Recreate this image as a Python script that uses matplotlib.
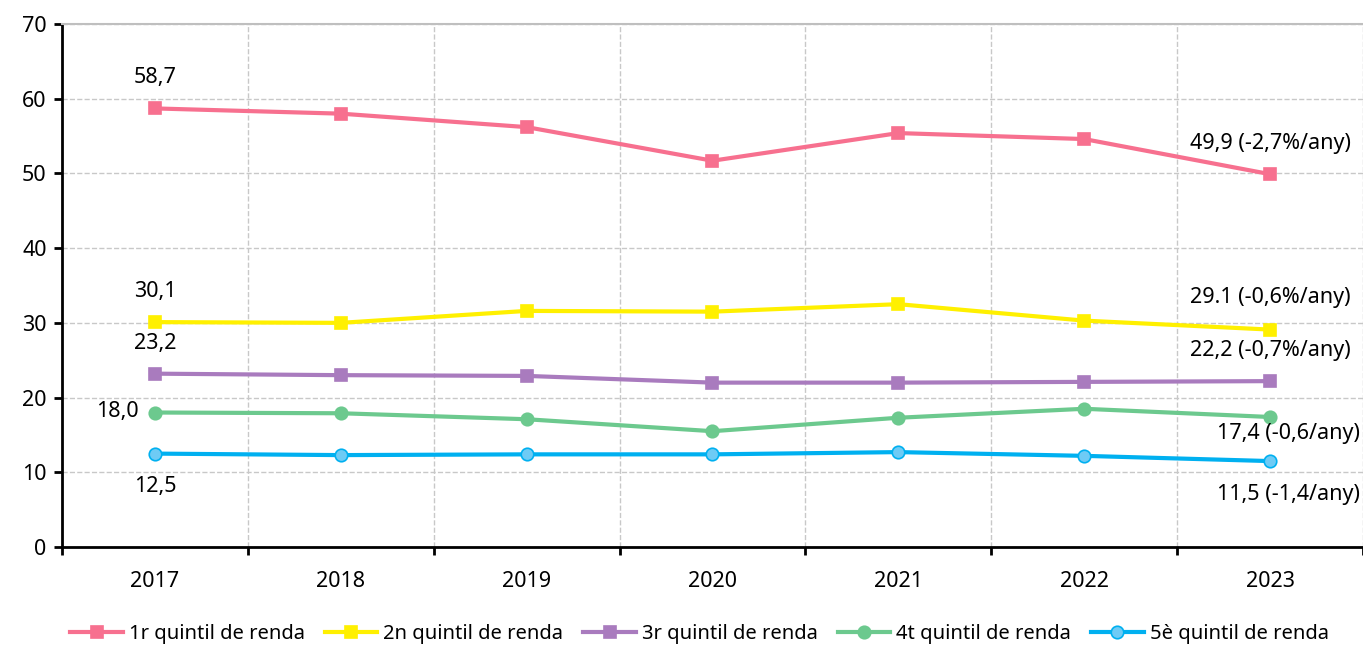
import matplotlib.pyplot as plt

plt.rcParams['font.family'] = ['Noto Sans', 'DejaVu Sans']

years = ['2017', '2018', '2019', '2020', '2021', '2022', '2023']
labels = ['1r quintil de renda', '2n quintil de renda', '3r quintil de renda',
          '4t quintil de renda', '5è quintil de renda']
q1 = [58.7, 58.0, 56.2, 51.7, 55.4, 54.6, 49.9]
q2 = [30.1, 30.0, 31.6, 31.5, 32.5, 30.3, 29.1]
q3 = [23.2, 23.0, 22.9, 22.0, 22.0, 22.1, 22.2]
q4 = [18.0, 17.9, 17.1, 15.5, 17.3, 18.5, 17.4]
q5 = [12.5, 12.3, 12.4, 12.4, 12.7, 12.2, 11.5]
start_labels = ['58,7', '30,1', '23,2', '18,0', '12,5']
end_labels = ['49,9 (-2,7%/any)', '29.1 (-0,6%/any)', '22,2 (-0,7%/any)',
              '17,4 (-0,6/any)', '11,5 (-1,4/any)']

series = [q1, q2, q3, q4, q5]
colors = ['#F7708F', '#FFF000', '#A97BBE', '#6CC98E', '#00B0F0']
faces = ['#F7708F', '#FFF000', '#A97BBE', '#6CC98E', '#6ECBF5']
markers = ['s', 's', 's', 'o', 'o']

FS = 15.5

fig = plt.figure(figsize=(13.63, 6.46), dpi=100)
ax = fig.add_axes([62 / 1363, 1 - 547 / 646, 1301 / 1363, 523 / 646])

x = list(range(len(years)))
for vals, lab, c, fc, m in zip(series, labels, colors, faces, markers):
    ax.plot(x, vals, color=c, lw=3, marker=m, markersize=9,
            markerfacecolor=fc, markeredgecolor=c, markeredgewidth=1.2, label=lab)

# start labels (offsets in points)
start_off = [(0, 22, 'center'), (0, 22, 'center'), (0, 22, 'center'),
             (-12, 1, 'right'), (0, -24, 'center')]
for vals, txt, (dx, dy, ha) in zip(series, start_labels, start_off):
    ax.annotate(txt, (0, vals[0]), xytext=(dx, dy), textcoords='offset points',
                ha=ha, va='center', fontsize=FS)

# end labels
last = len(years) - 1
end_off = [(0, 22, 'center'), (0, 23, 'center'), (0, 22, 'center'),
           (65, -12, 'right'), (65, -24, 'right')]
for vals, txt, (dx, dy, ha) in zip(series, end_labels, end_off):
    ax.annotate(txt, (last, vals[-1]), xytext=(dx, dy), textcoords='offset points',
                ha=ha, va='center', fontsize=FS)

ax.set_xlim(-0.5, len(years) - 0.5)
ax.set_ylim(0, 70)
ax.set_yticks(range(0, 71, 10))
ax.set_xticks(x)
ax.set_xticklabels(years)
ax.set_xticks([i + 0.5 for i in range(-1, len(years))], minor=True)
ax.tick_params(axis='x', which='major', length=0, pad=17, labelsize=FS)
ax.tick_params(axis='x', which='minor', length=6, width=2, direction='out')
ax.tick_params(axis='y', length=6, width=2, direction='out', labelsize=FS, pad=5)

ax.grid(axis='y', which='major', color='#C8C8C8', ls='--', lw=1)
ax.grid(axis='x', which='minor', color='#C8C8C8', ls='--', lw=1)
ax.set_axisbelow(True)

ax.spines['right'].set_visible(False)
ax.spines['top'].set_color('#BFBFBF')
ax.spines['top'].set_linewidth(1.5)
for s in ['left', 'bottom']:
    ax.spines[s].set_linewidth(2)
    ax.spines[s].set_color('black')

ax.legend(loc='center', bbox_to_anchor=(0.49, -87 / 523), ncol=5, frameon=False,
          fontsize=14.5, handlelength=2.6, columnspacing=1.0, handletextpad=0.3)

fig.savefig('out.png', dpi=100)
